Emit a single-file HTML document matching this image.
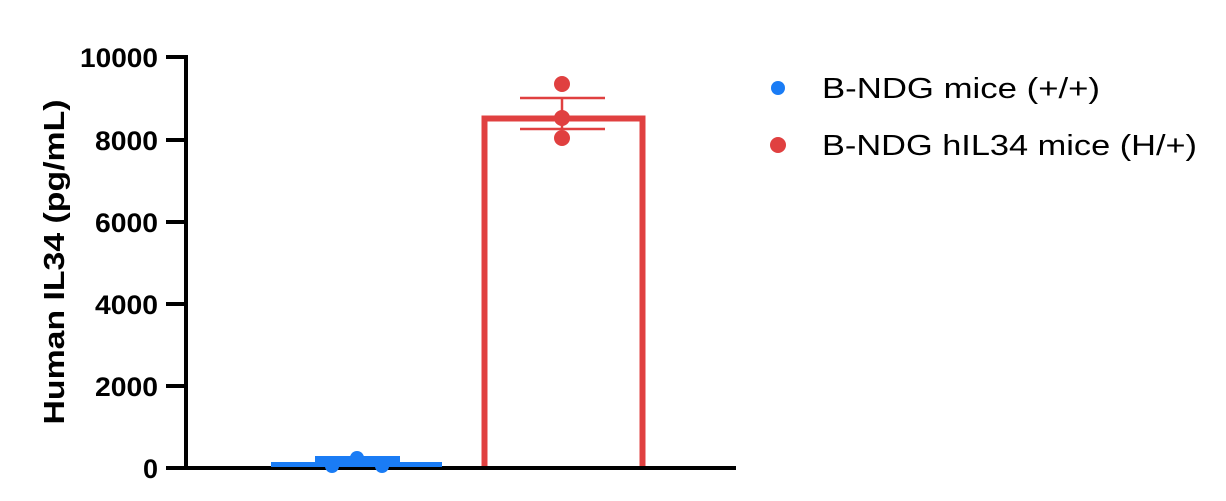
<!DOCTYPE html>
<html><head><style>html,body{margin:0;padding:0;background:#fff;}</style></head>
<body>
<svg width="1226" height="496" xmlns="http://www.w3.org/2000/svg">
<g stroke="#000" stroke-width="4" fill="none">
<line x1="186" y1="55" x2="186" y2="470"/>
<line x1="166" y1="468" x2="736" y2="468"/>
<line x1="166" y1="57" x2="186" y2="57"/>
<line x1="166" y1="140" x2="186" y2="140"/>
<line x1="166" y1="222" x2="186" y2="222"/>
<line x1="166" y1="304" x2="186" y2="304"/>
<line x1="166" y1="386" x2="186" y2="386"/>
</g>
<g font-family="Liberation Sans, sans-serif" font-weight="bold" font-size="27" text-anchor="end" fill="#000">
<text x="158" y="67" textLength="78" lengthAdjust="spacingAndGlyphs">10000</text>
<text x="158" y="150" textLength="63" lengthAdjust="spacingAndGlyphs">8000</text>
<text x="158" y="232" textLength="63" lengthAdjust="spacingAndGlyphs">6000</text>
<text x="158" y="314" textLength="63" lengthAdjust="spacingAndGlyphs">4000</text>
<text x="158" y="396" textLength="63" lengthAdjust="spacingAndGlyphs">2000</text>
<text x="158" y="478">0</text>
</g>
<text transform="translate(64,262) rotate(-90)" font-family="Liberation Sans, sans-serif" font-weight="bold" font-size="29" text-anchor="middle" textLength="325" lengthAdjust="spacingAndGlyphs">Human IL34 (pg/mL)</text>
<!-- red bar -->
<path d="M484.5 466 V118.5 H642.5 V466" stroke="#e04040" stroke-width="6" fill="none"/>
<g stroke="#e04040" stroke-width="2.5">
<line x1="520" y1="98" x2="605" y2="98"/>
<line x1="520" y1="129" x2="605" y2="129"/>
<line x1="562" y1="98" x2="562" y2="129"/>
</g>
<g fill="#e04040">
<circle cx="562" cy="84" r="8"/>
<circle cx="562" cy="118" r="8"/>
<circle cx="562" cy="138" r="8"/>
</g>
<!-- blue -->
<rect x="271" y="462" width="171" height="5" fill="#1a7cf5"/>
<rect x="315" y="456" width="85" height="11" fill="#1a7cf5"/>
<g fill="#1a7cf5">
<circle cx="332" cy="466" r="7"/>
<circle cx="357" cy="458" r="7"/>
<circle cx="382" cy="466" r="7"/>
</g>
<!-- legend -->
<circle cx="778" cy="88" r="7" fill="#1a7cf5"/>
<circle cx="778" cy="145" r="8" fill="#e04040"/>
<g font-family="Liberation Sans, sans-serif" font-size="29" fill="#000">
<text x="822" y="98" textLength="278" lengthAdjust="spacingAndGlyphs">B-NDG mice (+/+)</text>
<text x="822" y="155" textLength="375" lengthAdjust="spacingAndGlyphs">B-NDG hIL34 mice (H/+)</text>
</g>
</svg>
</body></html>
